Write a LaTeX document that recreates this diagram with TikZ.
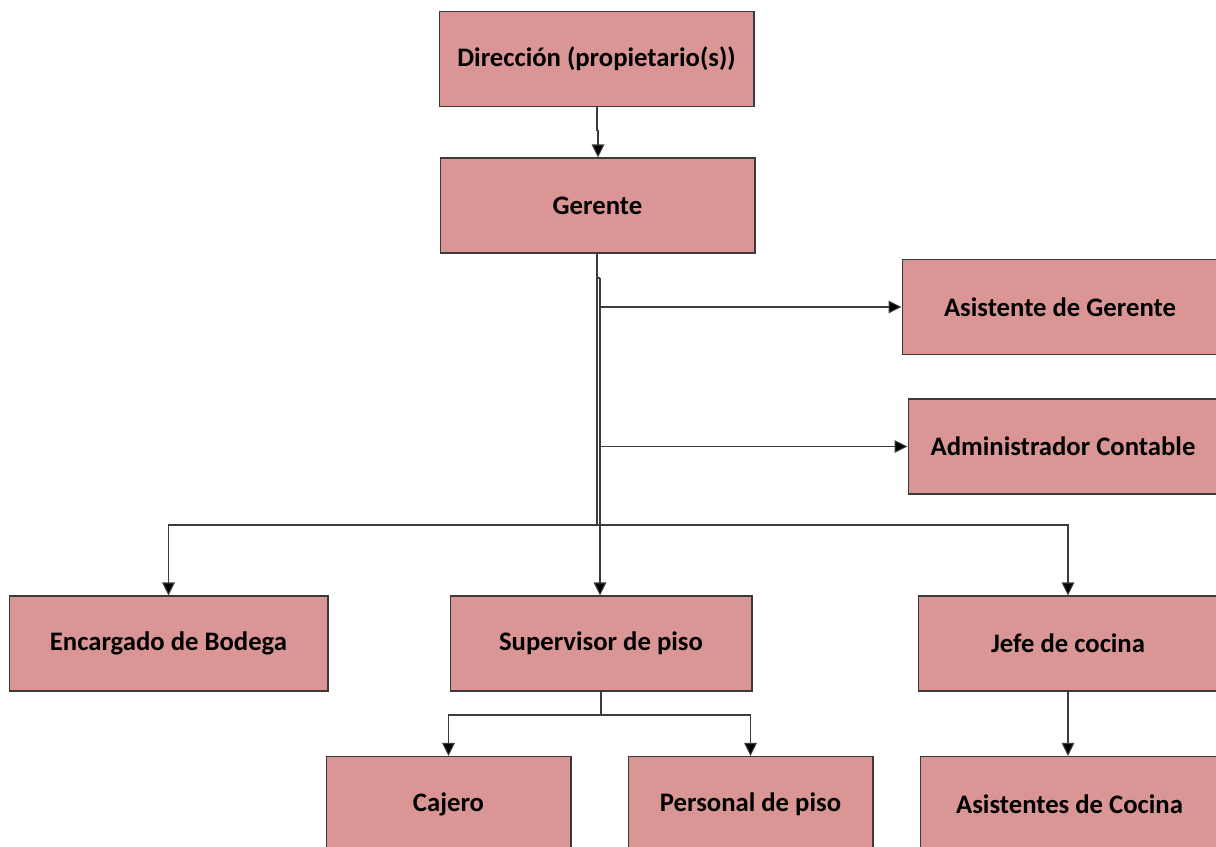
\documentclass[tikz,border=0pt]{standalone}
\usepackage{fontspec}
\setmainfont{Carlito}
\usetikzlibrary{arrows.meta,positioning}
\definecolor{boxfill}{HTML}{DA9694}
\definecolor{boxline}{HTML}{3A3A3A}
\definecolor{wire}{HTML}{3C3C3C}
\tikzset{
  unit/.style={draw=boxline,fill=boxfill,line width=0.6pt,align=center,
    minimum width=6.3cm,minimum height=1.9cm,inner sep=0pt,
    font=\fontsize{15.2}{17}\selectfont\bfseries},
  link/.style={-{Triangle[length=2.6mm,width=2.5mm,fill=black]},draw=wire,line width=0.6pt},
  trunk/.style={draw=wire,line width=0.6pt}
}
\begin{document}
\begin{tikzpicture}[x=0.02cm,y=-0.02cm]
  \useasboundingbox (0,0) rectangle (1216,847);
  \begin{scope}
  \clip (0,0) rectangle (1216,847);
  % top of the chart
  \node[unit] (dir) at (596.5,59) {Dirección (propietario(s))};
  \node[unit] (ger) at (597.5,205.5) {Gerente};
  % staff units on the right
  \node[unit,minimum width=6.32cm] (asis) at (1060,307) {Asistente de Gerente};
  \node[unit,minimum width=6.2cm] (admin) at (1063,446.5) {Administrador Contable};
  % second level
  \node[unit,minimum width=6.38cm] (bod) at (168.5,643.5) {Encargado de Bodega};
  \node[unit,minimum width=6.04cm] (sup) at (601,643.5) {Supervisor de piso};
  \node[unit,minimum width=6.0cm] (jefe) at (1068,643.5) {Jefe de cocina};
  % third level
  \node[unit,minimum width=4.9cm] (caj) at (448.5,804) {Cajero};
  \node[unit,minimum width=4.9cm] (pers) at (750.5,804) {Personal de piso};
  \node[unit,minimum width=5.96cm] (coc) at (1069.5,804) {Asistentes de Cocina};
  \end{scope}

  % connectors
  \coordinate (j1) at (597,130);
  \coordinate (j2) at (597,525);
  \coordinate (j3) at (600,278);
  \coordinate (j4) at (601,715);
  \draw[trunk] (dir.south -| j1) -- (j1) -- (598,130);
  \draw[link] (598,130) -- (ger.north -| 598,0);
  \draw[trunk] (ger.south -| j2) -- (j2);
  \draw[trunk] (j2 |- j3) -- (j3);
  \draw[link] (j3) -- (sup.north -| j3);
  \draw[link] (j3 |- asis.west) -- (asis.west);
  \draw[link] (j3 |- admin.west) -- (admin.west);
  \draw[link] (j2) -| (bod.north);
  \draw[link] (j2) -| (jefe.north);
  \draw[trunk] (sup.south -| j4) -- (j4);
  \draw[link] (j4) -| (caj.north);
  \draw[link] (j4) -| (pers.north);
  \draw[link] (jefe.south) -- (coc.north -| jefe.south);
\end{tikzpicture}
\end{document}
